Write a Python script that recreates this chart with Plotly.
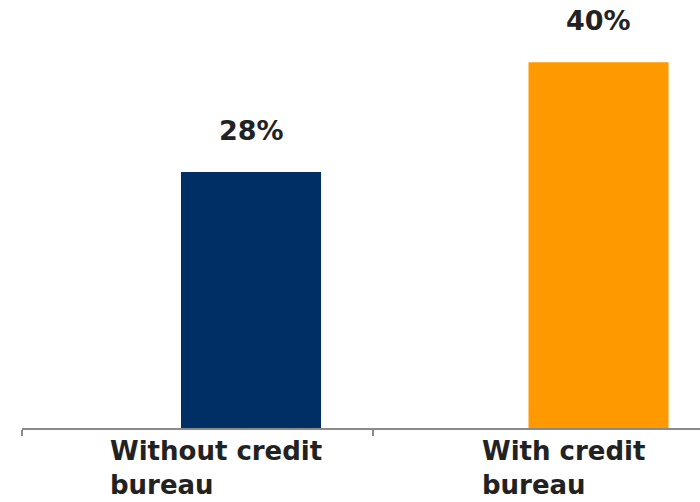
import plotly.graph_objects as go

categories = ["Without credit<br>bureau", "With credit<br>bureau"]
values = [28, 40]
value_labels = ["28%", "40%"]
colors = ["#002F66", "#FF9900"]

# numeric positions for categories
pos = [0, 1]
boundaries = [-0.659, 0.351]
label_left = [-0.4115, 0.659]  # left edges of the category labels (x-axis units)

fig = go.Figure()
fig.add_trace(go.Bar(
    x=pos, y=values, width=0.403,
    marker=dict(color=colors, line=dict(width=0)),
    hoverinfo="skip",
))

text_font = dict(family="DejaVu Sans", size=27, color="#222222")
for p, v, lab in zip(pos, values, value_labels):
    fig.add_annotation(x=p, y=v, text="<b>%s</b>" % lab, showarrow=False,
                       xanchor="center", yanchor="bottom", yshift=24,
                       font=text_font)

for lx, cat in zip(label_left, categories):
    fig.add_annotation(x=lx, y=0, yref="y", text="<b>%s</b>" % cat,
                       showarrow=False, xanchor="left", yanchor="top",
                       align="left", yshift=-6,
                       font=dict(family="DejaVu Sans", size=26, color="#222222"))

fig.update_layout(
    width=700, height=502,
    margin=dict(l=0, r=0, t=0, b=74),
    paper_bgcolor="white", plot_bgcolor="white",
    showlegend=False,
    xaxis=dict(domain=[22/700, 1], range=[-0.659, 1.292],
               showgrid=False, zeroline=False,
               showline=True, linecolor="#8a8a8a", linewidth=2,
               tickmode="array", tickvals=boundaries, ticks="outside",
               ticklen=6, tickcolor="#8a8a8a", tickwidth=2,
               showticklabels=False, fixedrange=True),
    yaxis=dict(range=[0, 46.8], visible=False, fixedrange=True),
)

fig.write_html("out.html")
